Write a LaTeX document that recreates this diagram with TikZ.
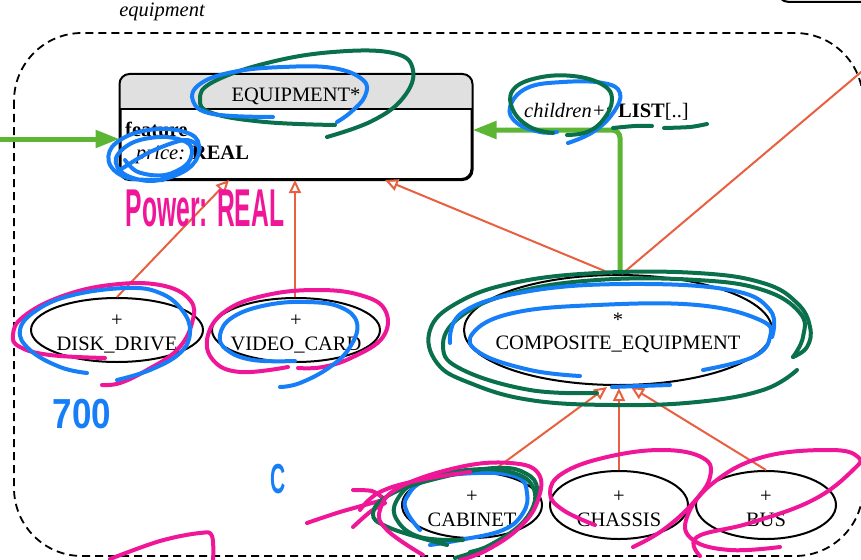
\documentclass[tikz,border=0pt]{standalone}
\usepackage{fontspec}
\setmainfont{Liberation Serif}
\newfontfamily\handfont{Liberation Sans}
\usetikzlibrary{shapes.geometric,arrows.meta,calc}

\definecolor{hdrgray}{RGB}{224,224,224}
\definecolor{flowgreen}{RGB}{92,182,52}
\definecolor{inhorange}{RGB}{232,96,64}
\definecolor{penblue}{RGB}{22,126,246}
\definecolor{penpink}{RGB}{240,22,152}
\definecolor{pengreen}{RGB}{10,112,76}

\newcommand{\clsfont}{\fontsize{20.5}{23.5}\selectfont}

\tikzset{
  cls/.style={ellipse, draw, line width=2pt, inner sep=0pt, fill=white},
  clstext/.style={align=center, inner sep=0pt},
  inh/.style={draw=inhorange, line width=2pt,
    -{Triangle[open, length=13pt, width=12pt, line width=2pt]}},
  flow/.style={draw=flowgreen, line width=5pt,
    -{Triangle[length=24pt, width=17pt]}},
  pen/.style={line width=4pt, line cap=round, line join=round},
  bluepen/.style={pen, draw=penblue},
  pinkpen/.style={pen, draw=penpink},
  greenpen/.style={pen, draw=pengreen},
  hand/.style={font=\handfont\bfseries\fontsize{28}{30}\selectfont, inner sep=0pt},
}

\begin{document}
\begin{tikzpicture}[x=1pt, y=-1pt, font=\clsfont]
\useasboundingbox (0,0) rectangle (861,559);

% cluster frame and its label
\draw[line width=1.8pt, dash pattern=on 8pt off 5pt, rounded corners=68]
  (14,33) rectangle (863,556);
\node (cluster) at (162,12) {\itshape equipment};

% edge of the neighbouring box above
\draw[line width=2pt, rounded corners=12] (777,-20) -- (777,2) -- (880,2);

% deferred class EQUIPMENT
\node[draw, line width=2pt, rounded corners=10, minimum width=351pt,
      minimum height=104pt, inner sep=0pt] (eq) at (296,127) {};
\fill[hdrgray] (eq.west |- 0,109) [rounded corners=10] -- (eq.north west)
  -- (eq.north east) [sharp corners] -- (eq.east |- 0,109) -- cycle;
\draw[line width=2pt, rounded corners=10] (eq.south west) rectangle (eq.north east);
\draw[line width=1.5pt] (eq.west |- 0,109) -- (eq.east |- 0,109);
\node (eqname) at (296,96) {EQUIPMENT*};
\node[anchor=west, inner sep=0pt] (feat) at (125,129) {\bfseries feature};
\node[anchor=west, inner sep=0pt] (attr) at (136,155) {\itshape price:\upshape{} \bfseries REAL};

% effective classes
\node[cls, minimum width=172pt, minimum height=64pt] (dd) at (117,330) {};
\node[clstext] (ddt) at (117,334) {+\\DISK\_DRIVE};
\node[cls, minimum width=168pt, minimum height=64pt] (vc) at (296,330) {};
\node[clstext] (vct) at (296,334) {+\\VIDEO\_CARD};
\node[cls, minimum width=308pt, minimum height=110pt] (ce) at (618,330) {};
\node[clstext] (cet) at (618,333) {*\\COMPOSITE\_EQUIPMENT};
\node[cls, minimum width=140pt, minimum height=66pt] (cab) at (472,505) {};
\node[clstext] (cabt) at (472,509) {+\\CABINET};
\node[cls, minimum width=138pt, minimum height=68pt] (cha) at (619,505) {};
\node[clstext] (chat) at (619,509) {+\\CHASSIS};
\node[cls, minimum width=140pt, minimum height=68pt] (bus) at (766,505) {};
\node[clstext] (bust) at (766,509) {+\\BUS};

% inheritance targets
\coordinate (eqA) at (229,180);
\coordinate (eqB) at (295,180);
\coordinate (eqC) at (385,180);
\coordinate (ceA) at (607,387);
\coordinate (ceB) at (619,388);
\coordinate (ceC) at (631,387);
\coordinate (far) at (905,35);

% inheritance links
\draw[inh] (dd.north) -- (eqA);
\draw[inh] (vc.north -| eqB) -- (eqB);
\draw[inh] ([xshift=-6pt]ce.north) -- (eqC);
\draw[draw=inhorange, line width=2pt] ([xshift=4pt]ce.north) -- (far);
\draw[inh] (cab.60) -- (ceA);
\draw[inh] (cha.north) -- (ceB);
\draw[inh] (bus.north) -- (ceC);

% client links
\coordinate (src) at (-5,139);
\draw[flow] (src) -- (src -| eq.west);
\draw[flow, rounded corners=8] ([xshift=2pt]ce.north) |- ($(eq.east)+(0,3)$);
\node[anchor=west, inner sep=0pt] (chl) at (524,112)
  {\itshape children+\upshape: \bfseries LIST\mdseries[..]};

% ---- pen annotations ----
% green loop round the class name
\draw[greenpen] plot[smooth, tension=.7] coordinates {(335,125) (265,122) (212,113) (200,99) (213,82) (267,63) (333,52) (393,53) (413,70) (403,98) (372,121) (327,137)};
% blue loop round the class name
\draw[bluepen] plot[smooth, tension=.7] coordinates {(273,117) (213,114) (193,101) (200,84) (233,72) (283,67) (333,68) (363,80) (365,96) (351,112) (337,122)};
% blue scribble on the attribute
\draw[bluepen] plot[smooth, tension=.6] coordinates {(163,180) (128,178) (110,165) (112,147) (135,133) (168,129) (195,137) (198,156) (183,172) (152,181) (124,174) (116,158) (134,142) (166,137) (190,145) (188,163) (165,175) (138,172) (125,160)};
\draw[bluepen] plot[smooth, tension=.6] coordinates {(120,170) (150,152) (185,140) (200,148)};

% handwritten notes
\node[hand, text=penpink, xscale=.88, yscale=1.9] (note1) at (205,208) {Power: REAL};
\node[hand, text=penblue, xscale=1.25, yscale=1.5] (note2) at (82,414) {700};
\node[hand, text=penblue, xscale=.75, yscale=1.5] (note3) at (278,479) {C};

% loops round DISK_DRIVE
\draw[pinkpen] plot[smooth, tension=.7] coordinates {(105,358) (50,355) (20,347) (13,335) (23,317) (60,297) (110,285) (160,285) (190,300) (192,323) (177,350) (147,370) (120,383) (102,385)};
\draw[bluepen] plot[smooth, tension=.7] coordinates {(87,373) (60,367) (30,350) (20,330) (37,310) (73,295) (127,288) (160,293) (182,310) (190,332) (180,353) (150,370) (117,380)};
% loops round VIDEO_CARD
\draw[pinkpen] plot[smooth, tension=.7] coordinates {(288,367) (240,372) (213,360) (208,335) (227,310) (267,295) (317,290) (360,295) (385,310) (383,337) (353,357) (323,367) (298,368)};
\draw[bluepen] plot[smooth, tension=.7] coordinates {(295,361) (253,360) (227,350) (220,335) (233,317) (267,305) (307,302) (340,307) (357,323) (350,347) (330,367) (300,383) (280,387)};

% marks round the children label
\draw[bluepen] plot[smooth, tension=.7] coordinates {(568,143) (593,132) (613,113) (620,93) (603,83) (563,82) (527,88) (510,107) (517,123) (540,132) (557,132)};
\draw[greenpen] plot[smooth, tension=.7] coordinates {(553,133) (530,127) (513,110) (513,90) (537,78) (573,76) (603,85) (612,100) (603,120) (587,132) (567,135)};
\draw[greenpen] plot[smooth] coordinates {(613,128) (635,126) (652,126)};
\draw[greenpen] plot[smooth] coordinates {(664,128) (690,127) (707,124)};

% loops round COMPOSITE_EQUIPMENT
\draw[greenpen] plot[smooth, tension=.7] coordinates {(793,357) (807,347) (810,327) (797,303) (763,283) (697,273) (597,273) (513,283) (457,303) (430,330) (437,363) (470,383) (530,400) (613,405) (697,402) (763,390) (797,370)};
\draw[greenpen] plot[smooth, tension=.7] coordinates {(597,393) (530,390) (463,370) (443,347) (460,317) (513,293) (597,280) (697,280) (763,290) (800,313) (803,337) (793,357)};
\draw[bluepen] plot[smooth, tension=.7] coordinates {(580,376) (530,370) (480,353) (473,333) (513,313) (597,305) (697,305) (760,320) (770,337) (753,357) (703,370)};
\draw[bluepen] plot[smooth, tension=.7] coordinates {(450,343) (463,312) (530,291) (630,284) (730,290) (770,310) (772,337)};
\draw[bluepen] plot[smooth] coordinates {(612,387) (640,386) (670,385)};

% arrow sketched towards CABINET
\draw[pinkpen] plot[smooth] coordinates {(307,523) (340,512) (383,500)};
\draw[pinkpen] plot[smooth] coordinates {(353,490) (372,491) (383,498)};
\draw[pinkpen] plot[smooth] coordinates {(353,527) (370,512) (385,503)};

% loops round CABINET
\draw[bluepen] plot[smooth, tension=.7] coordinates {(420,530) (407,512) (407,497) (427,480) (477,473) (517,477) (527,493) (523,513) (503,530) (460,540) (430,545)};
\draw[greenpen] plot[smooth, tension=.7] coordinates {(463,540) (420,537) (397,520) (397,500) (420,480) (467,470) (510,472) (533,487) (530,513) (503,540) (470,552)};
\draw[greenpen] plot[smooth, tension=.7] coordinates {(447,545) (390,528) (373,513) (393,493) (443,477) (495,468) (525,473) (537,490) (525,520) (490,545) (455,558)};
\draw[pinkpen] plot[smooth, tension=.7] coordinates {(423,555) (387,530) (380,510) (400,487) (460,467) (510,463) (538,473) (538,500) (520,527) (487,550) (460,560)};
\draw[pinkpen] plot[smooth, tension=.7] coordinates {(360,510) (380,492) (420,480) (470,472)};

% loop round CHASSIS
\draw[pinkpen] plot[smooth, tension=.7] coordinates {(595,525) (563,510) (550,493) (563,473) (607,457) (663,450) (703,458) (710,477) (693,503) (663,530) (633,547)};
% loop round BUS
\draw[pinkpen] plot[smooth, tension=.7] coordinates {(700,556) (697,537) (750,523) (813,500) (853,470) (858,457) (830,450) (763,457) (713,483) (687,517) (693,540) (730,550) (780,547)};

% stroke near the bottom edge
\draw[pinkpen] plot[smooth, tension=.6] coordinates {(110,559) (160,541) (200,533) (212,536) (213,562)};
\end{tikzpicture}
\end{document}
